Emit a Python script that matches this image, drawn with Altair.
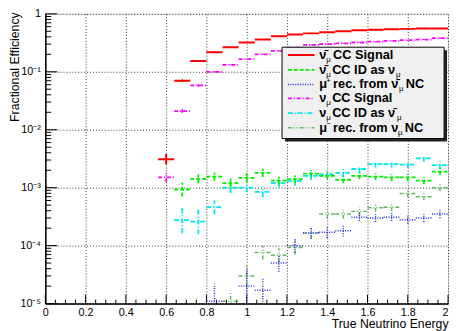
import altair as alt
import pandas as pd

# ---------------- data ----------------
E = [0.60, 0.68, 0.76, 0.84, 0.92, 1.00, 1.08, 1.16, 1.24, 1.32,
     1.40, 1.48, 1.56, 1.64, 1.72, 1.80, 1.88, 1.96]
HALF_BIN = 0.04

antinu_cc_signal = [3.1e-3, 0.070, 0.154, 0.218, 0.265, 0.32, 0.36, 0.41, 0.44, 0.46,
                    0.48, 0.50, 0.52, 0.53, 0.54, 0.55, 0.56, 0.56]
antinu_cc_signal_err = [0.09, 0.02, 0.01, 0.01, 0.01, 0.01, 0.01, 0.01, 0.01, 0.01,
                        0.01, 0.01, 0.01, 0.01, 0.01, 0.01, 0.01, 0.01]

antinu_id_as_nu = [None, 9.3e-4, 1.42e-3, 1.55e-3, 1.2e-3, 1.48e-3, 1.8e-3, 1.32e-3, 1.4e-3, 1.75e-3,
                   1.6e-3, 1.37e-3, 1.6e-3, 1.55e-3, 1.5e-3, 1.5e-3, 1.32e-3, 1.9e-3]
antinu_id_as_nu_err = [0, 0.12, 0.08, 0.07, 0.08, 0.08, 0.07, 0.07, 0.07, 0.06,
                       0.06, 0.06, 0.06, 0.06, 0.06, 0.06, 0.06, 0.06]

muplus_from_antinu_nc = [None, None, None, 1.1e-5, None, 2.0e-5, 1.7e-5, 5.0e-5, 1.0e-4, 1.65e-4,
                         1.7e-4, 1.8e-4, 3.1e-4, 3.0e-4, 3.1e-4, 2.8e-4, 3.0e-4, 3.5e-4]
muplus_from_antinu_nc_err = [0, 0, 0, 0.3, 0, 0.3, 0.2, 0.15, 0.12, 0.1,
                             0.1, 0.1, 0.07, 0.07, 0.07, 0.07, 0.07, 0.07]

nu_cc_signal = [1.5e-3, 0.021, 0.058, 0.10, 0.132, 0.166, 0.20, 0.23, 0.26, 0.29,
                0.30, 0.31, 0.32, 0.33, 0.34, 0.35, 0.36, 0.38]
nu_cc_signal_err = [0.08, 0.03, 0.02, 0.01, 0.01, 0.01, 0.01, 0.01, 0.01, 0.01,
                    0.01, 0.01, 0.01, 0.01, 0.01, 0.01, 0.01, 0.01]

nu_id_as_antinu = [None, 2.75e-4, 2.6e-4, 4.6e-4, 1.0e-3, 1.0e-3, 8.5e-4, 1.2e-3, 1.3e-3, 1.6e-3,
                   1.7e-3, 1.8e-3, 2.1e-3, 2.55e-3, 2.55e-3, 2.5e-3, 3.2e-3, 2.45e-3]
nu_id_as_antinu_err = [0, 0.22, 0.22, 0.12, 0.09, 0.08, 0.09, 0.08, 0.08, 0.07,
                       0.07, 0.07, 0.06, 0.06, 0.06, 0.06, 0.06, 0.07]

muminus_from_nu_nc = [None, None, None, None, 1.1e-5, 3.0e-5, 7.6e-5, 6.8e-5, 9.3e-5, 1.66e-4,
                      3.5e-4, 3.5e-4, 3.9e-4, 4.5e-4, 4.6e-4, 7.9e-4, 7.0e-4, 1.0e-3]
muminus_from_nu_nc_err = [0, 0, 0, 0, 0.18, 0.2, 0.12, 0.12, 0.12, 0.1,
                          0.08, 0.08, 0.08, 0.07, 0.07, 0.06, 0.06, 0.06]

x_major = [0, 0.2, 0.4, 0.6, 0.8, 1.0, 1.2, 1.4, 1.6, 1.8, 2.0]
x_minor = [0.05, 0.1, 0.15, 0.25, 0.3, 0.35, 0.45, 0.5, 0.55, 0.65, 0.7, 0.75,
           0.85, 0.9, 0.95, 1.05, 1.1, 1.15, 1.25, 1.3, 1.35, 1.45, 1.5, 1.55,
           1.65, 1.7, 1.75, 1.85, 1.9, 1.95]
y_major = [1e-5, 1e-4, 1e-3, 1e-2, 1e-1, 1]
y_minor = [m * d for d in [1e-5, 1e-4, 1e-3, 1e-2, 1e-1] for m in range(2, 10)]

# ---------------- styling ----------------
W, H = 410, 295
FONT = "Liberation Sans"
XTITLE = "True Neutrino Energy"
YTITLE = "Fractional Efficiency"
xscale = alt.Scale(domain=[0, 2], nice=False, zero=False)
yscale = alt.Scale(type="log", domain=[1e-5, 1], nice=False)

xaxis = alt.Axis(
    values=x_major, format="~g", grid=True, gridDash=[1, 2], gridColor="black",
    gridOpacity=0.8, tickSize=0, domainColor="black", domainWidth=1.5,
    labelFont=FONT, labelFontSize=11, labelColor="black", labelPadding=3,
    labelFlush=False,
    labelAlign={"condition": {"test": "datum.value >= 2", "value": "right"}, "value": "center"},
    title=XTITLE, titleFont=FONT, titleFontSize=12.5,
    titleFontWeight="normal", titleColor="black", titleAnchor="end",
    titleAlign="right", titleX=W, titleY=20, titleBaseline="middle")
yaxis = alt.Axis(
    values=y_major, grid=True, gridDash=[1, 2], gridColor="black",
    gridOpacity=0.8, tickSize=0, domainColor="black", domainWidth=1.5,
    labelFont=FONT, labelFontSize=11, labelColor="black", labelPadding=5,
    labelFlush=False,
    labelExpr="datum.value >= 0.5 ? '1' : datum.value >= 0.05 ? '10\u207b\u00b9' : "
              "datum.value >= 0.005 ? '10\u207b\u00b2' : datum.value >= 0.0005 ? '10\u207b\u00b3' : "
              "datum.value >= 0.00005 ? '10\u207b\u2074' : '10\u207b\u2075'",
    title=YTITLE, titleFont=FONT, titleFontSize=12.5,
    titleFontWeight="normal", titleColor="black", titleAngle=-90,
    titleAlign="right", titleBaseline="middle", titleX=-31, titleY=-2)


def X(field):
    return alt.X(field, type="quantitative", scale=xscale, axis=xaxis, title=XTITLE)


def Y(field):
    return alt.Y(field, type="quantitative", scale=yscale, axis=yaxis, title=YTITLE)


series = [
    # (values, errs, color, dash, width)
    (muminus_from_nu_nc, muminus_from_nu_nc_err, "#5cb85c", [4, 2, 1, 2, 1, 2], 1.5),
    (muplus_from_antinu_nc, muplus_from_antinu_nc_err, "#2222ee", [1, 1.5], 1.5),
    (nu_id_as_antinu, nu_id_as_antinu_err, "#00e8f0", [5, 2, 1, 2], 1.8),
    (antinu_id_as_nu, antinu_id_as_nu_err, "#00ee00", [4, 2], 1.8),
    (nu_cc_signal, nu_cc_signal_err, "#ff00ff", [4, 2, 1, 2], 1.8),
    (antinu_cc_signal, antinu_cc_signal_err, "#ff0000", [1, 0], 2),
]


def series_df(vals, errs):
    rows = []
    for e, v, er in zip(E, vals, errs):
        if v is None:
            continue
        rows.append(dict(E=e, v=v, x1=e - HALF_BIN, x2=e + HALF_BIN,
                         lo=v / 10 ** er, hi=v * 10 ** er))
    return pd.DataFrame(rows)


layers = []

# base layer with axes and grid
axis_df = pd.DataFrame({"x": [0, 2], "y": [1e-5, 1]})
layers.append(alt.Chart(axis_df).mark_point(opacity=0).encode(x=X("x"), y=Y("y")))

# inward ticks
tick_specs = [
    (x_major, "x", 9), (x_minor, "x", 4), (y_major, "y", 12), (y_minor, "y", 6)
]
for vals, ax, ln in tick_specs:
    df = pd.DataFrame({"t": vals})
    if ax == "x":
        layers.append(alt.Chart(df).mark_rule(color="black", strokeWidth=1).encode(
            x=X("t"), y=alt.value(H), y2=alt.value(H - ln)))
    else:
        layers.append(alt.Chart(df).mark_rule(color="black", strokeWidth=1).encode(
            y=Y("t"), x=alt.value(0), x2=alt.value(ln)))

# data series
for vals, errs, color, dash, sw in series:
    df = series_df(vals, errs)
    layers.append(alt.Chart(df).mark_rule(color=color, strokeDash=dash, strokeWidth=sw, clip=True).encode(
        x=X("x1"), x2="x2:Q", y=Y("v")))
    layers.append(alt.Chart(df).mark_rule(color=color, strokeDash=dash, strokeWidth=sw, clip=True).encode(
        x=X("E"), y=Y("lo"), y2="hi:Q"))

# ---------------- legend (drawn manually, pixel placement) ----------------
LX0, LX1, LY0, LY1 = 241, 406, 34, 127
one = pd.DataFrame({"a": [0]})
layers.append(alt.Chart(one).mark_rect(color="#222222").encode(
    x=alt.value(LX0 + 3), x2=alt.value(LX1 + 3), y=alt.value(LY0 + 3), y2=alt.value(LY1 + 3)))
layers.append(alt.Chart(one).mark_rect(fill="#f0f0f0", stroke="black", strokeWidth=1).encode(
    x=alt.value(LX0), x2=alt.value(LX1), y=alt.value(LY0), y2=alt.value(LY1)))

rows_y = [42, 57, 72, 86, 101, 116]
legend_styles = [series[5], series[3], series[1], series[4], series[2], series[0]]
for py, (vals, errs, color, dash, sw) in zip(rows_y, legend_styles):
    layers.append(alt.Chart(one).mark_rule(
        color=color, strokeDash=dash, strokeWidth=sw).encode(
        x=alt.value(247), x2=alt.value(274), y=alt.value(py)))

r1, r2, r3, r4, r5, r6 = rows_y
main_txt = [
    (279, r1, "\u03bd\u0304"), (293, r1, "CC Signal"),
    (279, r2, "\u03bd\u0304"), (292, r2, "CC ID as \u03bd"),
    (279, r3, "\u03bc"), (293, r3, "rec. from \u03bd\u0304"), (367, r3, "NC"),
    (279, r4, "\u03bd"), (292, r4, "CC Signal"),
    (279, r5, "\u03bd"), (292, r5, "CC ID as \u03bd\u0304"),
    (279, r6, "\u03bc"), (293, r6, "rec. from \u03bd"), (366, r6, "NC"),
]
sub_txt = [
    (286, r1 + 5, "\u03bc"), (286, r2 + 5, "\u03bc"), (357, r2 + 5, "\u03bc"),
    (360, r3 + 5, "\u03bc"),
    (286, r4 + 5, "\u03bc"), (286, r5 + 5, "\u03bc"), (358, r5 + 5, "\u03bc"),
    (359, r6 + 5, "\u03bc"),
]
sup_txt = [(286, r3 - 4, "+"), (286, r6 - 4, "\u2212")]

for rows, size in [(main_txt, 13), (sub_txt, 8), (sup_txt, 8)]:
    for px, py, s in rows:
        layers.append(alt.Chart(one).mark_text(
            align="left", baseline="middle", font=FONT, fontSize=size,
            fontWeight="bold" if size > 10 else "normal", color="black").encode(
            x=alt.value(px), y=alt.value(py), text=alt.value(s)))

chart = alt.layer(*layers).properties(
    width=W, height=H,
    autosize=alt.AutoSizeParams(type="none"),
    padding={"left": 38, "top": 3, "right": 2, "bottom": 25},
).configure_view(stroke="#333333", strokeWidth=2).configure(background="white")

chart.save("out.html", embed_options={"renderer": "svg", "actions": False})
